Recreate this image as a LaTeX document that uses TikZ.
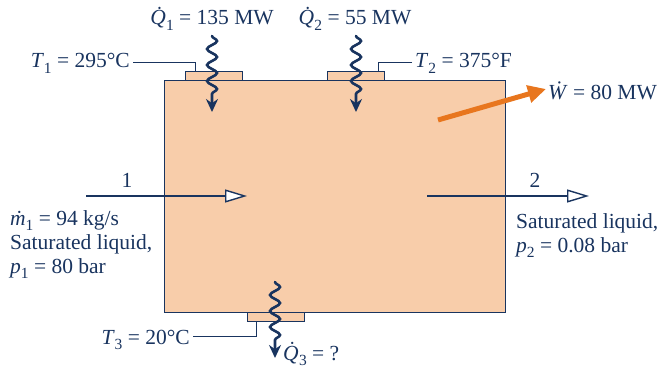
\documentclass[tikz,border=0pt]{standalone}
\usepackage{fontspec}
\setmainfont{Liberation Serif}
\usetikzlibrary{arrows.meta,decorations.pathmorphing}
\definecolor{navy}{RGB}{25,52,95}
\definecolor{peach}{RGB}{248,205,170}
\definecolor{workorange}{RGB}{232,118,30}
\newcommand\dt[1]{\textit{#1^^^^0307}}
\newcommand\dtQ{\textit{Q^^^^0307}\kern-0.27em}
\newcommand\sub[1]{\raisebox{-0.26em}{\fontsize{15.5}{15.5}\selectfont #1}}
\begin{document}
\begin{tikzpicture}[x=1pt,y=-1pt,
  every node/.style={font=\fontsize{21.5}{25}\selectfont, text=navy, inner sep=0pt},
  tab/.style={draw=navy, fill=peach, line width=1pt, minimum width=57pt, minimum height=9pt, anchor=north west},
  leader/.style={draw=navy, line width=0.8pt},
  heat/.style={draw=navy, line width=2.6pt, line cap=round, decorate,
    decoration={snake, amplitude=5pt, segment length=16pt, post length=14pt},
    -{Stealth[length=13pt,width=12pt]}},
  flow/.style={draw=navy, line width=1.4pt, -{Triangle[open, length=22pt, width=13pt, fill=white]}}]
\useasboundingbox (0,0) rectangle (657,369);

% control volume
\node[draw=navy, fill=peach, line width=1.4pt, minimum width=341pt, minimum height=232pt, anchor=north west] (box) at (164,80) {};
\node[tab] (t1) at (185,71) {};
\node[tab] (t2) at (327,71) {};
\node[tab] (t3) at (247,312) {};

% flows
\coordinate (in1) at (86,196);
\coordinate (in1e) at (247,196);
\coordinate (out2s) at (427,196);
\coordinate (out2e) at (589,196);
\draw[flow] (in1) -- (in1e);
\draw[flow] (out2s) -- (out2e);
\node[anchor=base] (n1) at (127,187) {1};
\node[anchor=base] (n2) at (535,187) {2};

% heat transfers
\coordinate (q1s) at (212,36); \coordinate (q1e) at (212,112);
\coordinate (q2s) at (356,36); \coordinate (q2e) at (356,112);
\coordinate (q3s) at (275,282); \coordinate (q3e) at (275,358);
\draw[heat] (q1s) -- (q1e);
\draw[heat] (q2s) -- (q2e);
\draw[heat] (q3s) -- (q3e);

% work
\coordinate (ws) at (438,120);
\coordinate (we) at (546,89);
\draw[workorange, line width=5pt, -{Triangle[length=18pt,width=17pt]}] (ws) -- (we);

% labels
\node[anchor=base] (Q1) at (212,25) {\dtQ\sub{1} = 135 MW};
\node[anchor=base] (Q2) at (355,25) {\dtQ\sub{2} = 55 MW};
\node[anchor=base west] (Q3) at (283,360) {\dtQ\sub{3} = ?};
\node[anchor=base west] (W) at (548,100) {\dt{W} = 80 MW};
\node[anchor=base east] (T1) at (130,68) {\textit{T}\sub{1} = 295°C};
\node[anchor=base west] (T2) at (415,68) {\textit{T}\sub{2} = 375°F};
\node[anchor=base east] (T3) at (190,344) {\textit{T}\sub{3} = 20°C};

% leaders
\coordinate (l1) at (195,62);
\coordinate (l2) at (378,62);
\coordinate (l3) at (256,336);
\draw[leader] ([xshift=3pt]T1.east |- l1) -- (l1) -- (l1 |- t1.north);
\draw[leader] ([xshift=-3pt]T2.west |- l2) -- (l2) -- (l2 |- t2.north);
\draw[leader] ([xshift=3pt]T3.east |- l3) -- (l3) -- (l3 |- t3.south);

% state texts
\node[anchor=base west] (s1a) at (10,225) {\dt{m}\sub{1} = 94 kg/s};
\node[anchor=base west] (s1b) at (10,249) {Saturated liquid,};
\node[anchor=base west] (s1c) at (10,273) {\textit{p}\sub{1} = 80 bar};
\node[anchor=base west] (s2a) at (516,228) {Saturated liquid,};
\node[anchor=base west] (s2b) at (516,252) {\textit{p}\sub{2} = 0.08 bar};
\end{tikzpicture}
\end{document}
